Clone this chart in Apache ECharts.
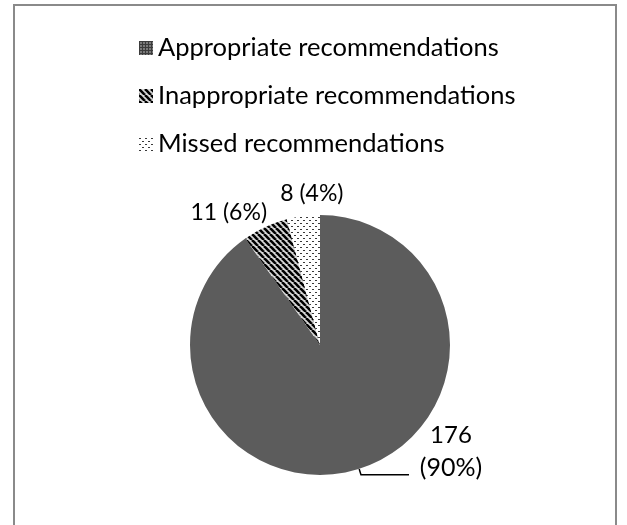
<!DOCTYPE html>
<html>
<head>
<meta charset="utf-8">
<script src="https://cdn.jsdelivr.net/npm/echarts@6/dist/echarts.min.js"></script>
<style>
  html, body { margin: 0; padding: 0; background: #fff; }
  #frame { position: absolute; left: 13px; top: 4px; width: 604px; height: 540px; border: 2px solid #8a8a8a; box-sizing: border-box; }
  #chart { position: absolute; left: 0; top: 0; width: 627px; height: 525px; }
</style>
</head>
<body>
<div id="frame"></div>
<div id="chart"></div>
<script>
const categories = ['Appropriate recommendations', 'Inappropriate recommendations', 'Missed recommendations'];
const counts = [176, 11, 8];
const percents = [90, 6, 4];

function makePattern(kind) {
  const c = document.createElement('canvas');
  if (kind === 'stripes') {
    c.width = 6; c.height = 6;
    const g = c.getContext('2d');
    g.fillStyle = '#d8d8d8'; g.fillRect(0, 0, 6, 6);
    g.strokeStyle = '#000'; g.lineWidth = 2.6;
    for (let k = -12; k <= 12; k += 6) {
      g.beginPath(); g.moveTo(k, 0); g.lineTo(k + 6, 6); g.stroke();
    }
  } else if (kind === 'dots') {
    c.width = 6; c.height = 6;
    const g = c.getContext('2d');
    g.fillStyle = '#ffffff'; g.fillRect(0, 0, 6, 6);
    g.fillStyle = '#3a3a3a';
    g.fillRect(0, 1, 2, 1); g.fillRect(3, 4, 2, 1);
  } else {
    c.width = 3; c.height = 3;
    const g = c.getContext('2d');
    g.fillStyle = '#7a7a7a'; g.fillRect(0, 0, 3, 3);
    g.fillStyle = '#3c3c3c'; g.fillRect(0, 0, 3, 1); g.fillRect(0, 0, 1, 3);
  }
  return { image: c, repeat: 'repeat' };
}

const sliceColors = ['#5c5c5c', makePattern('stripes'), makePattern('dots')];
const legendColors = [makePattern('grid'), makePattern('stripes'), makePattern('dots')];
const labelNudges = [[4, -7], [42, -24], [47, -9]];

const chart = echarts.init(document.getElementById('chart'), null, { renderer: 'canvas' });
const FONT = 'Lato';

chart.setOption({
  animation: false,
  legend: {
    orient: 'vertical',
    left: 134,
    top: 28,
    itemWidth: 14,
    itemHeight: 14,
    itemGap: 18,
    icon: 'rect',
    textStyle: { fontFamily: FONT, fontSize: 25.5, color: '#000', lineHeight: 30 },
    data: categories.map((n, i) => ({ name: n, itemStyle: { color: legendColors[i] } }))
  },
  series: [{
    type: 'pie',
    center: [320, 345],
    radius: 130,
    startAngle: 90,
    clockwise: true,
    label: {
      fontFamily: FONT, fontSize: 23, color: '#000', lineHeight: 32
    },
    labelLine: { lineStyle: { color: '#000', width: 1.5 } },
    labelLayout: function (p) {
      const n = labelNudges[p.dataIndex];
      return { dx: n[0], dy: n[1] };
    },
    data: categories.map((n, i) => {
      const big = i === 0;
      return {
        name: n,
        value: counts[i],
        itemStyle: { color: sliceColors[i] },
        label: big ? {
          formatter: '{a|' + counts[i] + '}\n{b|(' + percents[i] + '%)}\n{a|}',
          rich: {
            a: { width: 66, align: 'center', fontFamily: FONT, fontSize: 24, lineHeight: 32, color: '#000' },
            b: { width: 66, align: 'center', fontFamily: FONT, fontSize: 25, lineHeight: 32, color: '#000' }
          }
        } : {
          formatter: counts[i] + ' (' + percents[i] + '%)'
        },
        labelLine: big ? { show: true, length: 6, length2: 48 } : { show: false, length: 14, length2: 0 }
      };
    })
  }]
});
</script>
</body>
</html>
